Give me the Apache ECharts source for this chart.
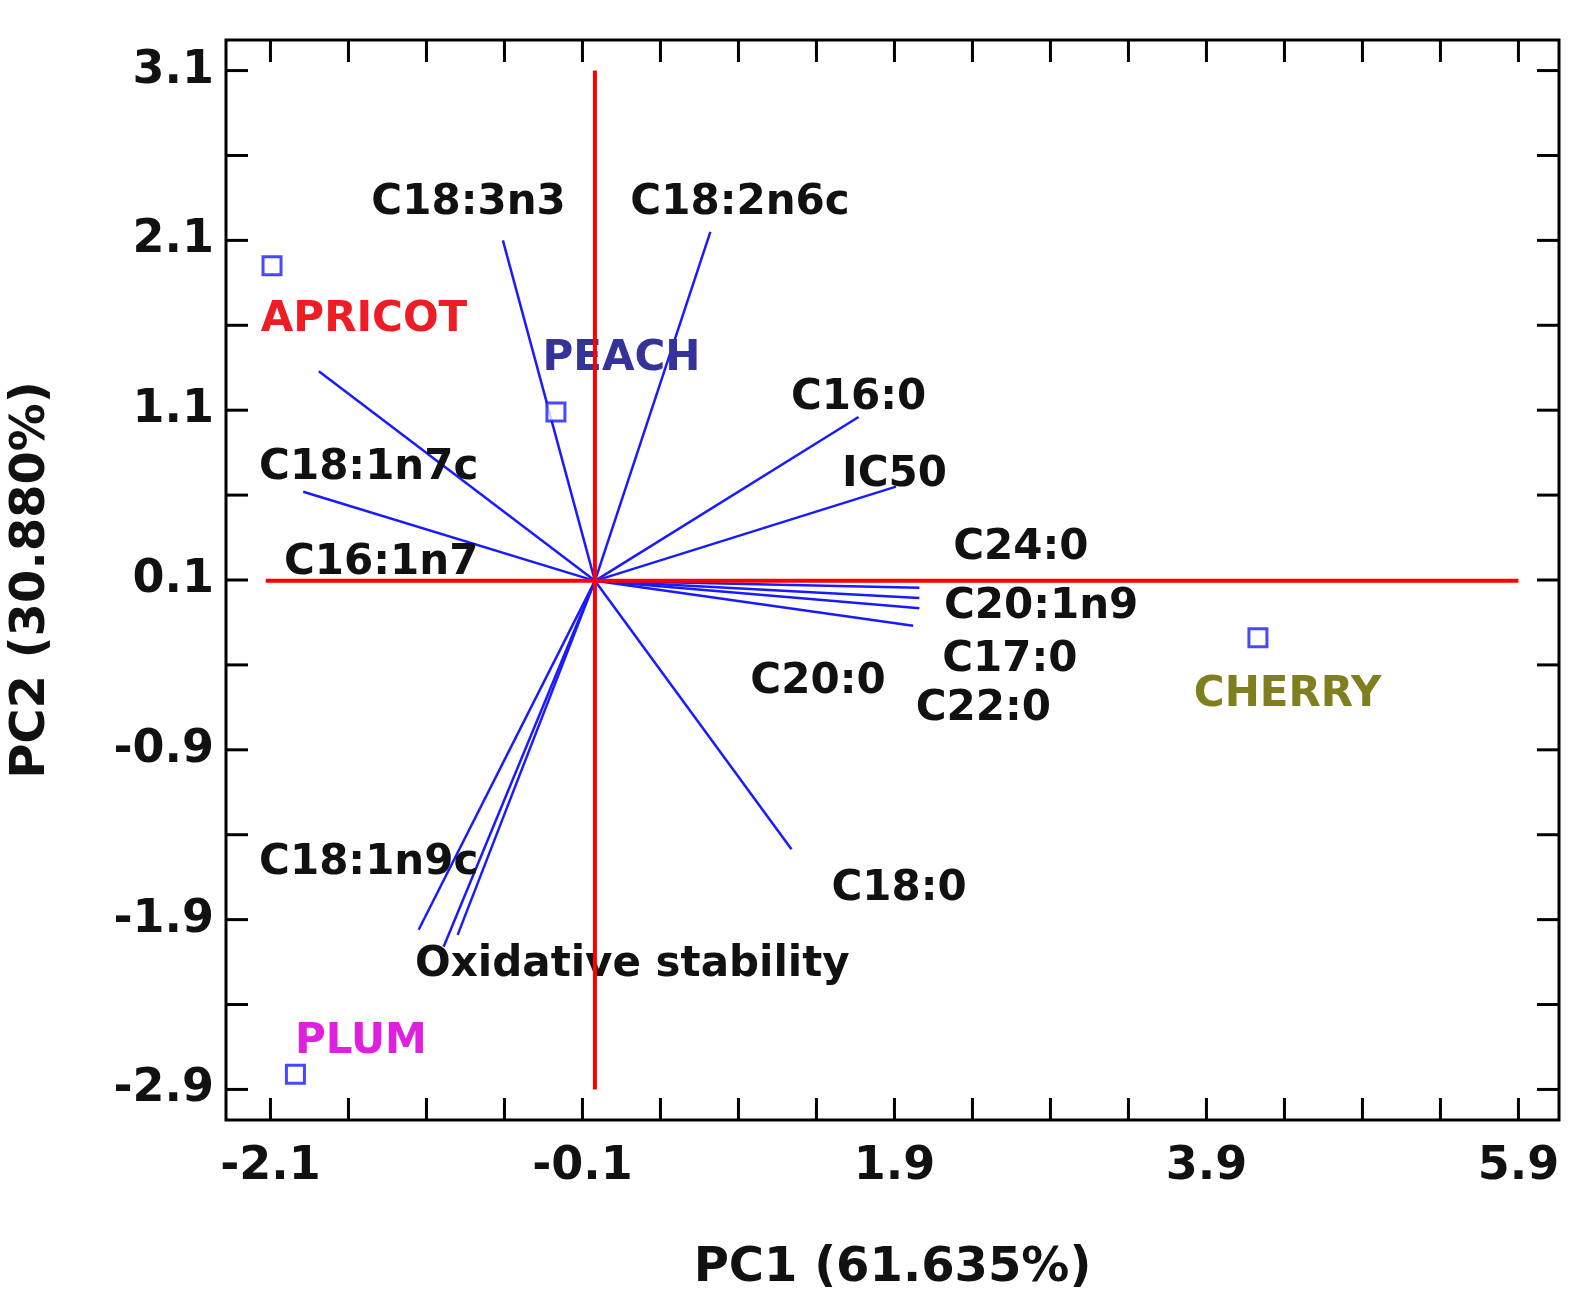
<!DOCTYPE html>
<html><head><meta charset="utf-8">
<script src="https://cdn.jsdelivr.net/npm/echarts@6/dist/echarts.min.js"></script>
<style>html,body{margin:0;background:#fff}#c{width:1590px;height:1306px}</style>
</head><body><div id="c"></div>
<script>
const xTicks=[-2.1,-1.6,-1.1,-0.6,-0.1,0.4,0.9,1.4,1.9,2.4,2.9,3.4,3.9,4.4,4.9,5.4,5.9];
const yTicks=[-2.9,-2.4,-1.9,-1.4,-0.9,-0.4,0.1,0.6,1.1,1.6,2.1,2.6,3.1];
const xLabels=[-2.1,-0.1,1.9,3.9,5.9];
const yLabels=[3.1,2.1,1.1,0.1,-0.9,-1.9,-2.9];
const samples=['APRICOT','PEACH','CHERRY','PLUM'];
const sampleX=[-2.09,-0.27,4.23,-1.94];
const sampleY=[1.95,1.09,-0.24,-2.81];
const sampleColors=['#ee1c24','#333399','#7f7f1f','#e020e0'];
const sampleLabelX=[-1.50,0.15,4.42,-1.52];
const sampleLabelY=[1.63,1.40,-0.58,-2.62];
const origin=[-0.02,0.095];
const vecEndX=[-0.61,0.72,-1.79,-1.89,1.67,1.91,2.06,2.06,2.06,2.02,1.24,-1.15,-0.99,-0.90];
const vecEndY=[2.10,2.15,1.33,0.62,1.06,0.65,0.054,-0.006,-0.066,-0.17,-1.485,-1.96,-2.06,-1.99];
const varNames=['C18:3n3','C18:2n6c','C18:1n7c','C16:1n7','C16:0','IC50','C24:0','C20:1n9','C17:0','C20:0','C22:0','C18:1n9c','C18:0','Oxidative stability'];
const varLabelX=[-0.83,0.91,-1.47,-1.39,1.67,1.90,2.71,2.84,2.64,1.41,2.47,-1.47,1.93,0.22];
const varLabelY=[2.32,2.32,0.76,0.20,1.17,0.72,0.29,-0.06,-0.37,-0.50,-0.66,-1.57,-1.72,-2.17];
const XMIN=-2.385,XMAX=6.16,YMIN=-3.08,YMAX=3.28;
const F='"DejaVu Sans", sans-serif';
const chart=echarts.init(document.getElementById('c'));
const tl=22;
chart.setOption({
 animation:false,
 grid:{left:218,right:31,top:40,bottom:186,show:true,borderColor:'#000',borderWidth:3,backgroundColor:'#fff'},
 xAxis:{type:'value',min:XMIN,max:XMAX,axisLabel:{show:false},axisTick:{show:false},splitLine:{show:false},axisLine:{show:false},
  name:'PC1 (61.635%)',nameLocation:'middle',nameGap:125,nameTextStyle:{fontFamily:F,fontWeight:'bold',fontSize:48,color:'#111'}},
 yAxis:{type:'value',min:YMIN,max:YMAX,axisLabel:{show:false},axisTick:{show:false},splitLine:{show:false},axisLine:{show:false},
  name:'PC2 (30.880%)',nameLocation:'middle',nameGap:170,nameTextStyle:{fontFamily:F,fontWeight:'bold',fontSize:48,color:'#111'}},
 series:[
  {type:'custom',silent:true,clip:false,data:xTicks.map(v=>[v]),renderItem:(p,api)=>{
    const b=api.coord([api.value(0),YMIN]),t=api.coord([api.value(0),YMAX]);
    return {type:'group',children:[
     {type:'line',shape:{x1:b[0],y1:b[1],x2:b[0],y2:b[1]-tl},style:{stroke:'#000',lineWidth:3}},
     {type:'line',shape:{x1:t[0],y1:t[1],x2:t[0],y2:t[1]+tl},style:{stroke:'#000',lineWidth:3}}]};}},
  {type:'custom',silent:true,clip:false,data:yTicks.map(v=>[v]),renderItem:(p,api)=>{
    const l=api.coord([XMIN,api.value(0)]),r=api.coord([XMAX,api.value(0)]);
    return {type:'group',children:[
     {type:'line',shape:{x1:l[0],y1:l[1],x2:l[0]+tl,y2:l[1]},style:{stroke:'#000',lineWidth:3}},
     {type:'line',shape:{x1:r[0],y1:r[1],x2:r[0]-tl,y2:r[1]},style:{stroke:'#000',lineWidth:3}}]};}},
  {type:'custom',silent:true,clip:false,data:xLabels.map(v=>[v]),renderItem:(p,api)=>{
    const c=api.coord([api.value(0),YMIN]);
    return {type:'text',x:c[0],y:c[1]+24,style:{text:api.value(0).toFixed(1),fontFamily:F,fontWeight:'bold',fontSize:46,fill:'#111',align:'center',verticalAlign:'top'}};}},
  {type:'custom',silent:true,clip:false,data:yLabels.map(v=>[v]),renderItem:(p,api)=>{
    const c=api.coord([XMIN,api.value(0)]);
    return {type:'text',x:c[0]-12,y:c[1],style:{text:api.value(0).toFixed(1),fontFamily:F,fontWeight:'bold',fontSize:46,fill:'#111',align:'right',verticalAlign:'middle'}};}},
  {type:'line',silent:true,symbol:'none',data:[[-2.13,origin[1]],[5.9,origin[1]]],lineStyle:{color:'#ff0000',width:4}},
  {type:'line',silent:true,symbol:'none',data:[[origin[0],3.1],[origin[0],-2.9]],lineStyle:{color:'#ff0000',width:4}},
  {type:'lines',coordinateSystem:'cartesian2d',silent:true,
   data:vecEndX.map((x,i)=>({coords:[origin,[x,vecEndY[i]]]})),lineStyle:{color:'#1a1aff',width:2.5,opacity:1}},
  {type:'scatter',silent:true,symbol:'rect',symbolSize:18,data:sampleX.map((x,i)=>[x,sampleY[i]]),
   itemStyle:{color:'#fff',borderColor:'#1a1aff',borderWidth:3}},
  {type:'custom',silent:true,clip:false,data:varNames.map((n,i)=>[varLabelX[i],varLabelY[i],i]),renderItem:(p,api)=>{
    const c=api.coord([api.value(0),api.value(1)]);
    return {type:'text',x:c[0],y:c[1],style:{text:varNames[api.value(2)],fontFamily:F,fontWeight:'bold',fontSize:42,fill:'#111',align:'center',verticalAlign:'middle'}};}},
  {type:'custom',silent:true,clip:false,data:samples.map((n,i)=>[sampleLabelX[i],sampleLabelY[i],i]),renderItem:(p,api)=>{
    const c=api.coord([api.value(0),api.value(1)]);const i=api.value(2);
    return {type:'text',x:c[0],y:c[1],style:{text:samples[i],fontFamily:F,fontWeight:'bold',fontSize:42,fill:sampleColors[i],align:'center',verticalAlign:'middle'}};}}
 ]
});
</script></body></html>
